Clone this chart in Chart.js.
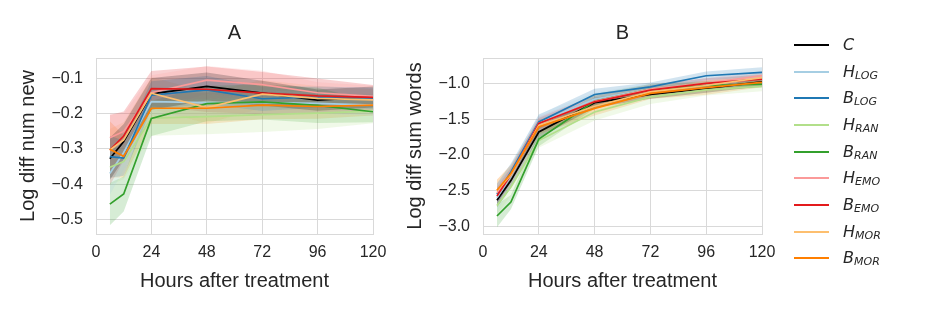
<!DOCTYPE html>
<html>
<head>
<meta charset="utf-8">
<script src="https://cdn.jsdelivr.net/npm/chart.js@4.4.1/dist/chart.umd.min.js"></script>
<style>
  body { margin: 0; background: #fff; }
  #page { position: relative; width: 936px; height: 312px; overflow: hidden; background: #fff; }
  #chartA { position: absolute; left: 0; top: 0; }
  #chartB { position: absolute; left: 400px; top: 0; }
  .row { position: absolute; left: 794px; height: 26px; width: 140px; }
  .swatch { position: absolute; left: 0; width: 35px; top: 12px; height: 2px; }
  .lbl { position: absolute; left: 49px; top: 0; line-height: 26px; font-family: "DejaVu Sans", sans-serif;
         font-style: italic; font-size: 16px; color: #262626; white-space: nowrap; }
  .lbl span { font-size: 11px; vertical-align: -2px; }
</style>
</head>
<body>
<div id="page">
  <canvas id="chartA" width="469" height="312"></canvas>
  <canvas id="chartB" width="445" height="312"></canvas>
  <div id="legend"></div>
</div>
<script>
// time points (hours after treatment)
const hours = [6, 12, 24, 48, 72, 96, 120];
const xTicks = [0, 24, 48, 72, 96, 120];

// series: C, H_LOG, B_LOG, H_RAN, B_RAN, H_EMO, B_EMO, H_MOR, B_MOR
const legendMain = ["C", "H", "B", "H", "B", "H", "B", "H", "B"];
const legendSub = ["", "LOG", "LOG", "RAN", "RAN", "EMO", "EMO", "MOR", "MOR"];
const colors = ["#000000", "#a6cee3", "#1f78b4", "#b2df8a", "#33a02c", "#fb9a99", "#e31a1c", "#fdbf6f", "#ff7f00"];

// panel A: log diff num new (mean and band half-width)
const numNewMean = [
  [-0.328, -0.279, -0.143, -0.122, -0.141, -0.161, -0.152],
  [-0.370, -0.310, -0.165, -0.168, -0.168, -0.170, -0.175],
  [-0.322, -0.326, -0.147, -0.132, -0.157, -0.152, -0.156],
  [-0.352, -0.336, -0.212, -0.208, -0.202, -0.198, -0.192],
  [-0.457, -0.428, -0.213, -0.171, -0.166, -0.176, -0.194],
  [-0.268, -0.250, -0.140, -0.104, -0.117, -0.140, -0.150],
  [-0.303, -0.263, -0.128, -0.130, -0.141, -0.149, -0.153],
  [-0.303, -0.274, -0.141, -0.182, -0.144, -0.156, -0.160],
  [-0.301, -0.321, -0.184, -0.184, -0.175, -0.179, -0.175]
];
const numNewCi = [
  [0.060, 0.050, 0.045, 0.040, 0.035, 0.030, 0.030],
  [0.060, 0.050, 0.040, 0.040, 0.035, 0.030, 0.030],
  [0.060, 0.050, 0.040, 0.040, 0.035, 0.030, 0.030],
  [0.050, 0.050, 0.050, 0.050, 0.050, 0.045, 0.035],
  [0.060, 0.050, 0.050, 0.050, 0.050, 0.050, 0.030],
  [0.070, 0.050, 0.050, 0.040, 0.040, 0.030, 0.030],
  [0.100, 0.070, 0.050, 0.065, 0.060, 0.050, 0.035],
  [0.060, 0.050, 0.045, 0.045, 0.040, 0.035, 0.030],
  [0.080, 0.060, 0.045, 0.045, 0.040, 0.035, 0.030]
];
const numNewTicks = [-0.5, -0.4, -0.3, -0.2, -0.1];

// panel B: log diff sum words
const sumWordsMean = [
  [-2.635, -2.36, -1.68, -1.27, -1.155, -1.07, -0.98],
  [-2.60, -2.30, -1.55, -1.22, -1.08, -1.02, -0.93],
  [-2.55, -2.24, -1.54, -1.155, -1.048, -0.893, -0.845],
  [-2.71, -2.45, -1.80, -1.40, -1.19, -1.09, -1.04],
  [-2.855, -2.66, -1.78, -1.25, -1.08, -1.03, -1.01],
  [-2.53, -2.28, -1.56, -1.25, -1.08, -1.00, -0.89],
  [-2.575, -2.28, -1.56, -1.258, -1.094, -1.00, -0.94],
  [-2.50, -2.28, -1.59, -1.32, -1.12, -1.03, -0.92],
  [-2.495, -2.26, -1.61, -1.35, -1.14, -1.06, -0.985]
];
const sumWordsCi = [
  [0.10, 0.10, 0.08, 0.07, 0.06, 0.06, 0.06],
  [0.20, 0.15, 0.12, 0.09, 0.08, 0.07, 0.07],
  [0.15, 0.12, 0.10, 0.08, 0.06, 0.06, 0.07],
  [0.12, 0.12, 0.10, 0.12, 0.10, 0.08, 0.07],
  [0.16, 0.10, 0.10, 0.10, 0.07, 0.06, 0.05],
  [0.12, 0.10, 0.10, 0.08, 0.07, 0.07, 0.06],
  [0.12, 0.10, 0.08, 0.08, 0.07, 0.07, 0.06],
  [0.15, 0.12, 0.10, 0.10, 0.08, 0.07, 0.06],
  [0.15, 0.12, 0.10, 0.10, 0.08, 0.10, 0.07]
];
const sumWordsTicks = [-3.0, -2.5, -2.0, -1.5, -1.0];

const gridColor = "#d9d9d9";
const textColor = "#262626";
const fontFamily = "'Liberation Sans', Arial, sans-serif";

function rgba(hex, a) {
  const n = parseInt(hex.slice(1), 16);
  return `rgba(${(n >> 16) & 255},${(n >> 8) & 255},${n & 255},${a})`;
}

// frame around the plot area (all four spines)
const framePlugin = {
  id: "frame",
  afterDatasetsDraw(chart) {
    const a = chart.chartArea;
    const c = chart.ctx;
    c.save();
    c.strokeStyle = gridColor;
    c.lineWidth = 1;
    c.strokeRect(Math.round(a.left) + 0.5, Math.round(a.top) + 0.5,
      Math.round(a.right - a.left), Math.round(a.bottom - a.top));
    c.restore();
  }
};

function makePanel(id, title, yTitle, means, cis, yMin, yMax, yTicks, yAxisW, yTitlePad) {
  const datasets = [];
  means.forEach((m, i) => {
    const hi = m.map((v, k) => ({ x: hours[k], y: v + cis[i][k] }));
    const lo = m.map((v, k) => ({ x: hours[k], y: v - cis[i][k] }));
    datasets.push({ data: hi, borderWidth: 0, pointRadius: 0, fill: false, order: 100 + i });
    datasets.push({ data: lo, borderWidth: 0, pointRadius: 0, fill: "-1",
      backgroundColor: rgba(colors[i], 0.2), order: 100 + i });
    datasets.push({ data: m.map((v, k) => ({ x: hours[k], y: v })), borderColor: colors[i],
      borderWidth: 1.7, pointRadius: 0, fill: false, order: 50 - i });
  });

  return new Chart(document.getElementById(id), {
    type: "line",
    data: { datasets },
    options: {
      responsive: false,
      animation: false,
      devicePixelRatio: 1,
      layout: { padding: 0 },
      plugins: {
        legend: { display: false },
        tooltip: { enabled: false },
        title: {
          display: true, text: title, color: textColor,
          font: { family: fontFamily, size: 20, weight: "normal" },
          padding: { top: 21, bottom: 13 }
        }
      },
      scales: {
        x: {
          type: "linear", min: 0, max: 120,
          afterBuildTicks: s => { s.ticks = xTicks.map(v => ({ value: v })); },
          afterFit: s => { s.height = 78; },
          grid: { color: gridColor, drawTicks: false },
          border: { display: false },
          ticks: { color: textColor, font: { family: fontFamily, size: 16 }, padding: 9,
            autoSkip: false, maxRotation: 0 },
          title: { display: true, text: "Hours after treatment", color: textColor,
            font: { family: fontFamily, size: 20 }, padding: { top: 0, bottom: 19 } }
        },
        y: {
          type: "linear", min: yMin, max: yMax,
          afterBuildTicks: s => { s.ticks = yTicks.map(v => ({ value: v })); },
          afterFit: s => { s.width = yAxisW; },
          grid: { color: gridColor, drawTicks: false },
          border: { display: false },
          ticks: { color: textColor, font: { family: fontFamily, size: 16 }, padding: 13,
            callback: v => (v < 0 ? "\u2212" : "") + Math.abs(v).toFixed(1) },
          title: { display: true, text: yTitle, color: textColor,
            font: { family: fontFamily, size: 20 }, padding: { top: yTitlePad, bottom: 0 } }
        },
        // empty right-hand axis so the title sits centred over the plot
        yRight: {
          type: "linear", position: "right",
          afterFit: s => { s.width = yAxisW; },
          grid: { display: false, drawOnChartArea: false },
          border: { display: false },
          ticks: { display: false }
        }
      }
    },
    plugins: [framePlugin]
  });
}

makePanel("chartA", "A", "Log diff num new", numNewMean, numNewCi, -0.542, -0.041, numNewTicks, 96, 16);
makePanel("chartB", "B", "Log diff sum words", sumWordsMean, sumWordsCi, -3.107, -0.645, sumWordsTicks, 83, 3);

// legend with subscripts
const legendEl = document.getElementById("legend");
legendMain.forEach((name, i) => {
  const row = document.createElement("div");
  row.className = "row";
  row.style.top = Math.round(32 + i * 26.65) + "px";
  row.innerHTML = `<div class="swatch" style="background:${colors[i]}"></div>` +
    `<div class="lbl">${name}${legendSub[i] ? `<span>${legendSub[i]}</span>` : ""}</div>`;
  legendEl.appendChild(row);
});
</script>
</body>
</html>
